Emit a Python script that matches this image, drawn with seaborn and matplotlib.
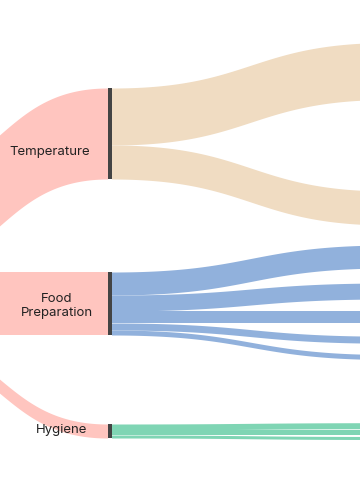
import numpy as np
import matplotlib
matplotlib.use("Agg")
import matplotlib.pyplot as plt
import seaborn as sns

sns.set_theme(style="white")
plt.rcParams["font.family"] = ["Inter", "DejaVu Sans"]

# flow values (px of band width)
mid_nodes = ["Temperature", "Food\nPreparation", "Hygiene"]
inflow = [91, 63, 14]
temp_out = [57, 34]
food_out = [23, 16, 12, 7, 5]
hyg_out = [6, 5, 3]

# colours
pink = "#FFC5BF"
beige = "#F0DCC2"
blue = "#91B1DC"
green = "#7FD5B4"
node_color = "#444444"

# layout (nodes at both ends sit outside the crop)
node_x0, node_x1 = 107.5, 111.5
left_x = -107.5
right_x = 390
node_tops = [88, 272, 424]
source_top = 181
target_centres = [
    [71, 208],
    [256.5, 291, 317, 339.7, 357],
    [425.7, 432.5, 438],
]
label_pos = [(50, 155), (57, 316), (62, 433)]


def link_path(x0, y0, x1, y1, n=400):
    t = np.linspace(0, 1, n)
    xm = (x0 + x1) / 2
    x = (1 - t) ** 3 * x0 + 3 * (1 - t) ** 2 * t * xm + 3 * (1 - t) * t ** 2 * xm + t ** 3 * x1
    y = (1 - t) ** 3 * y0 + 3 * (1 - t) ** 2 * t * y0 + 3 * (1 - t) * t ** 2 * y1 + t ** 3 * y1
    return x, y


def draw_link(ax, x0, y0, x1, y1, width, color):
    x, y = link_path(x0, y0, x1, y1)
    ax.fill_between(x, y - width / 2, y + width / 2, color=color, linewidth=0)


fig = plt.figure(figsize=(3.6, 5.0), dpi=100)
ax = fig.add_axes([0, 0, 1, 1])

# incoming links from the source on the left
y = source_top
for i, w in enumerate(inflow):
    draw_link(ax, left_x, y + w / 2, node_x0, node_tops[i] + w / 2, w, pink)
    y += w

# outgoing links
outs = [(temp_out, beige), (food_out, blue), (hyg_out, green)]
for i, (vals, col) in enumerate(outs):
    y = node_tops[i]
    for j, w in enumerate(vals):
        draw_link(ax, node_x1, y + w / 2, right_x, target_centres[i][j], w, col)
        y += w

# node bars
ax.bar([(node_x0 + node_x1) / 2] * 3, inflow, bottom=node_tops,
       width=node_x1 - node_x0, color=node_color, linewidth=0, zorder=5)

for name, (lx, ly) in zip(mid_nodes, label_pos):
    ax.text(lx, ly, name, ha="center", va="baseline", fontsize=9.5,
            color="#222222", linespacing=1.25, zorder=6)

ax.set_xlim(0, 360)
ax.set_ylim(500, 0)
ax.axis("off")

fig.savefig("out.png", dpi=100)
